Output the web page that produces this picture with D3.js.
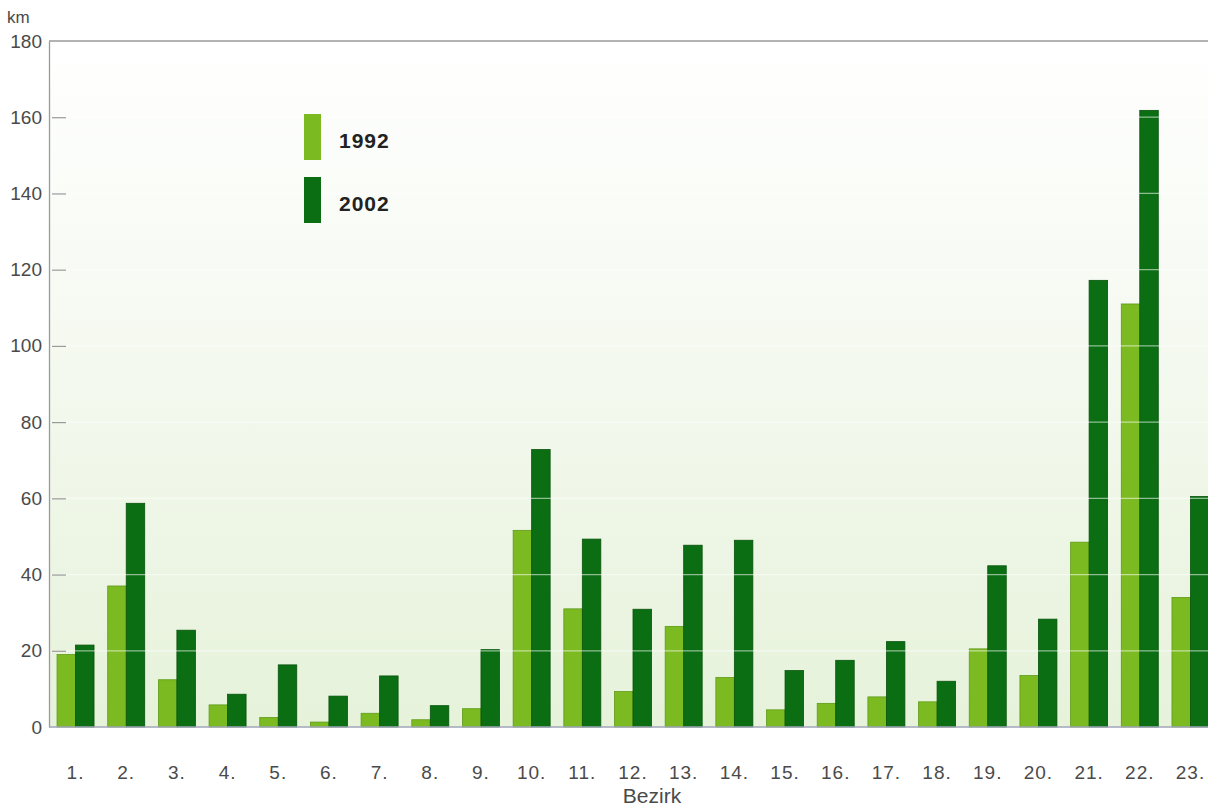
<!DOCTYPE html>
<html>
<head>
<meta charset="utf-8">
<script src="https://cdn.jsdelivr.net/npm/d3@7/dist/d3.min.js"></script>
<style>
  body { margin: 0; background: #fff; }
  svg { display: block; font-family: "Liberation Sans", Arial, sans-serif; }
</style>
</head>
<body>
<script>
// Bezirke 1..23, Radwegenetz in km
var districts = ["1.", "2.", "3.", "4.", "5.", "6.", "7.", "8.", "9.", "10.", "11.", "12.",
  "13.", "14.", "15.", "16.", "17.", "18.", "19.", "20.", "21.", "22.", "23."];
var years = ["1992", "2002"];
var values1992 = [19.0, 37.0, 12.4, 5.8, 2.5, 1.3, 3.6, 1.9, 4.8, 51.6, 31.0, 9.3,
  26.4, 13.0, 4.5, 6.2, 7.9, 6.6, 20.5, 13.5, 48.5, 111.0, 34.0];
var values2002 = [21.5, 58.7, 25.4, 8.6, 16.3, 8.1, 13.4, 5.6, 20.3, 72.8, 49.3, 30.9,
  47.7, 49.0, 14.8, 17.5, 22.4, 12.0, 42.3, 28.3, 117.2, 161.8, 60.5];
var yTicks = [0, 20, 40, 60, 80, 100, 120, 140, 160, 180];
var colors = ["#7cba22", "#0b6e13"];

var width = 1208, height = 807;
var plotLeft = 49, plotTop = 41, plotBottom = 727;

var svg = d3.select("body").append("svg")
  .attr("width", width)
  .attr("height", height);

// background gradient (white -> pale green)
var defs = svg.append("defs");
var grad = defs.append("linearGradient").attr("id", "bg")
  .attr("x1", 0).attr("y1", 0).attr("x2", 0).attr("y2", 1);
grad.append("stop").attr("offset", "0%").attr("stop-color", "#ffffff");
grad.append("stop").attr("offset", "40%").attr("stop-color", "#f6faf2");
grad.append("stop").attr("offset", "100%").attr("stop-color", "#e6f2da");

svg.append("rect")
  .attr("x", plotLeft).attr("y", plotTop)
  .attr("width", width - plotLeft).attr("height", plotBottom - plotTop)
  .attr("fill", "url(#bg)");

var y = d3.scaleLinear().domain([0, 180]).range([plotBottom, plotTop]);

var x0 = d3.scaleBand()
  .domain(districts)
  .range([50.2, 1215.8])
  .paddingInner(0.27)
  .paddingOuter(0.135);

var x1 = d3.scaleBand()
  .domain(years)
  .range([0, x0.bandwidth()]);

var rows = districts.map(function(d, i) {
  return { name: d, vals: [values1992[i], values2002[i]] };
});

var groups = svg.append("g").selectAll("g")
  .data(rows)
  .enter().append("g")
  .attr("transform", function(d) { return "translate(" + x0(d.name) + ",0)"; });

groups.selectAll("rect")
  .data(function(d) { return d.vals.map(function(v, j) { return { year: years[j], v: v, j: j }; }); })
  .enter().append("rect")
  .attr("x", function(d) { return x1(d.year); })
  .attr("y", function(d) { return y(d.v); })
  .attr("width", x1.bandwidth())
  .attr("height", function(d) { return plotBottom - y(d.v); })
  .attr("fill", function(d) { return colors[d.j]; })
  .attr("stroke", function(d) { return d.j ? "#07540c" : "#5f9a17"; })
  .attr("stroke-width", 0.8);

// faint white gridlines, visible over the bars as well
svg.append("g").selectAll("line")
  .data(yTicks.filter(function(t) { return t > 0 && t < 180; }))
  .enter().append("line")
  .attr("x1", plotLeft + 2).attr("x2", width)
  .attr("y1", function(d) { return y(d); })
  .attr("y2", function(d) { return y(d); })
  .attr("stroke", "#ffffff")
  .attr("stroke-opacity", 0.55)
  .attr("stroke-width", 1.2);

// y axis with short inward ticks
var yAxis = svg.append("g")
  .attr("transform", "translate(" + plotLeft + ",0)")
  .call(d3.axisLeft(y).tickValues(yTicks).tickSize(0).tickPadding(7));
yAxis.select(".domain").attr("stroke", "#9a9a9a").attr("stroke-width", 1.3);
yAxis.selectAll("text").attr("fill", "#4a4a4a").style("font-size", "19px");
yAxis.selectAll(".tick").filter(function(d) { return d > 0 && d < 180; })
  .append("line")
  .attr("x1", 3).attr("x2", 17)
  .attr("stroke", "#9a9a9a").attr("stroke-width", 1.2);

// top frame line and baseline
svg.append("line")
  .attr("x1", plotLeft).attr("x2", width)
  .attr("y1", plotTop).attr("y2", plotTop)
  .attr("stroke", "#9a9a9a").attr("stroke-width", 1.3);
svg.append("line")
  .attr("x1", plotLeft).attr("x2", width)
  .attr("y1", plotBottom).attr("y2", plotBottom)
  .attr("stroke", "#a0a6b8").attr("stroke-width", 1.3);

svg.append("text")
  .attr("x", 7).attr("y", 23)
  .attr("fill", "#4a4a4a")
  .style("font-size", "17px")
  .text("km");

// x axis labels
var xAxis = svg.append("g")
  .attr("transform", "translate(0," + plotBottom + ")")
  .call(d3.axisBottom(x0).tickSize(0).tickPadding(52));
xAxis.select(".domain").remove();
xAxis.selectAll("text")
  .attr("fill", "#4a4a4a")
  .attr("dy", 0)
  .style("font-size", "19px")
  .style("letter-spacing", "1px");

svg.append("text")
  .attr("x", 652).attr("y", 803)
  .attr("text-anchor", "middle")
  .attr("fill", "#4a4a4a")
  .style("font-size", "21px")
  .text("Bezirk");

// legend
var legend = svg.append("g").selectAll("g")
  .data(years)
  .enter().append("g")
  .attr("transform", function(d, i) { return "translate(304," + (114 + i * 63) + ")"; });
legend.append("rect")
  .attr("width", 17).attr("height", 46)
  .attr("fill", function(d, i) { return colors[i]; });
legend.append("text")
  .attr("x", 35).attr("y", 34)
  .attr("fill", "#222")
  .style("font-size", "21px")
  .style("font-weight", "bold")
  .style("letter-spacing", "1px")
  .text(function(d) { return d; });
</script>
</body>
</html>
